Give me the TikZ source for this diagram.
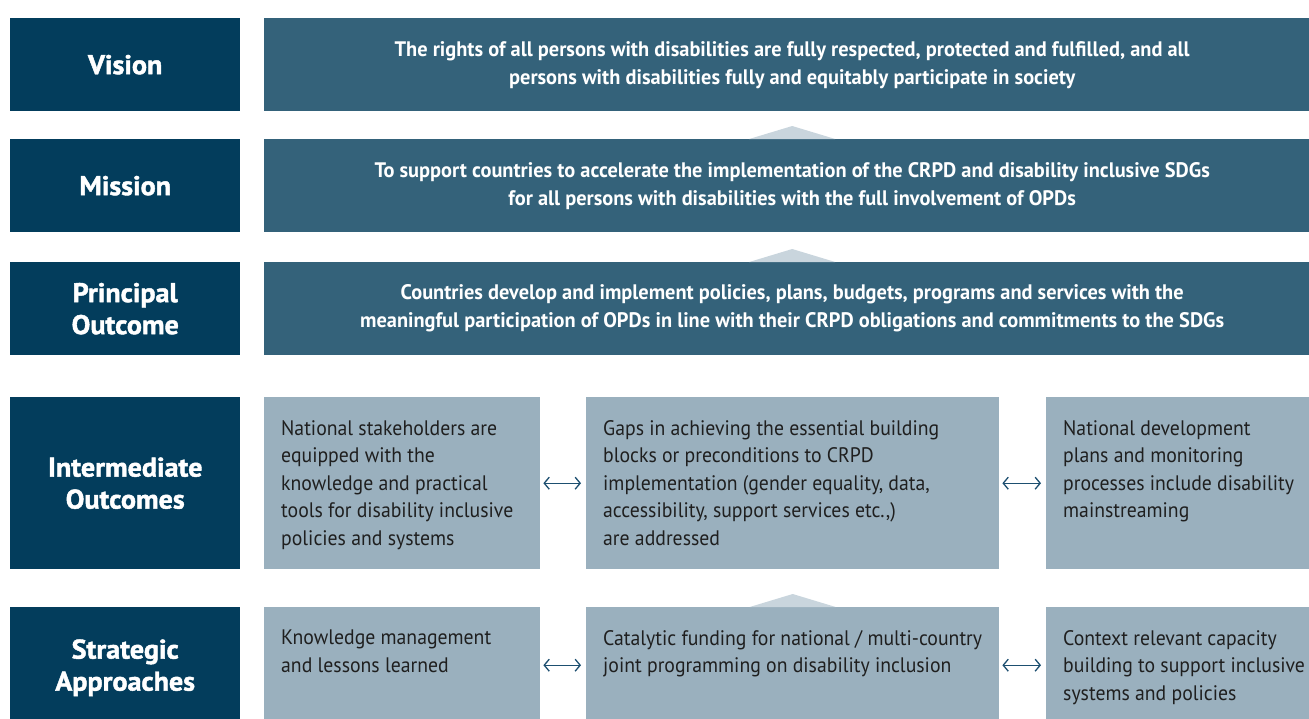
\documentclass[tikz,border=0pt]{standalone}
\usepackage{fontspec}
\setmainfont[FakeStretch=0.94]{PT Sans}
\newfontfamily\widefont[FakeStretch=0.97]{PT Sans}
\newfontfamily\heavyfont[FakeStretch=1.04, BoldFeatures={FakeBold=1.6}]{PT Sans}
\usetikzlibrary{arrows.meta, positioning}

\definecolor{navy}{HTML}{033D5C}
\definecolor{steel}{HTML}{34627A}
\definecolor{haze}{HTML}{9AB0BE}
\definecolor{peak}{HTML}{C9D5DD}
\definecolor{linkblue}{HTML}{1D4F70}

\begin{document}
\begin{tikzpicture}[x=1pt, y=-1pt,
    head/.style={fill=navy, text=white, anchor=north west, inner sep=0pt,
        minimum width=230pt, align=center,
        font=\heavyfont\bfseries\fontsize{27}{32}\selectfont},
    wide/.style={fill=steel, text=white, anchor=north west, inner sep=0pt,
        minimum width=1056pt, minimum height=93pt, align=center,
        font=\widefont\bfseries\fontsize{21}{28}\selectfont},
    pale/.style={fill=haze, anchor=north west, inner sep=0pt},
    note/.style={anchor=north west, inner sep=0pt, align=left,
        text=black!88, font=\fontsize{21}{27.5}\selectfont},
    link/.style={{Straight Barb[length=5pt,width=12pt]}-{Straight Barb[length=5pt,width=12pt]},
        linkblue, line width=1.3pt, shorten <=3pt, shorten >=5pt}]
    \useasboundingbox (0,0) rectangle (1309,718);

    % Row headers
    \node[head, minimum height=93pt] (vis) at (10,18) {Vision};
    \node[head, minimum height=93pt] (mis) at (10,139) {Mission};
    \node[head, minimum height=93pt] (pri) at (10,262) {Principal\\Outcome};
    \node[head, minimum height=172pt] (inter) at (10,397) {Intermediate\\Outcomes};
    \node[head, minimum height=121pt] (strat) at (10,607) {Strategic\\Approaches};

    % Wide statements
    \node[wide] (visBox) at (264,18) {The rights of all persons with disabilities are fully respected, protected and fulfilled, and all\\persons with disabilities fully and equitably participate in society};
    \node[wide] (misBox) at (264,139) {To support countries to accelerate the implementation of the CRPD and disability inclusive SDGs\\for all persons with disabilities with the full involvement of OPDs};
    \node[wide] (priBox) at (264,262) {Countries develop and implement policies, plans, budgets, programs and services with the\\meaningful participation of OPDs in line with their CRPD obligations and commitments to the SDGs};

    % Intermediate outcomes
    \node[pale, minimum width=276pt, minimum height=172pt] (io1) at (264,397) {};
    \node[pale, minimum width=413pt, minimum height=172pt] (io2) at (586,397) {};
    \node[pale, minimum width=275pt, minimum height=172pt] (io3) at (1046,397) {};
    \node[note] (io1Text) at ([shift={(17,23)}]io1.north west) {National stakeholders are\\equipped with the\\knowledge and practical\\tools for disability inclusive\\policies and systems};
    \node[note] (io2Text) at ([shift={(17,23)}]io2.north west) {Gaps in achieving the essential building\\blocks or preconditions to CRPD\\implementation (gender equality, data,\\accessibility, support services etc.,)\\are addressed};
    \node[note] (io3Text) at ([shift={(17,23)}]io3.north west) {National development\\plans and monitoring\\processes include disability\\mainstreaming};

    % Strategic approaches
    \node[pale, minimum width=276pt, minimum height=116pt] (sa1) at (264,607) {};
    \node[pale, minimum width=413pt, minimum height=116pt] (sa2) at (586,607) {};
    \node[pale, minimum width=275pt, minimum height=116pt] (sa3) at (1046,607) {};
    \node[note] (sa1Text) at ([shift={(17,23)}]sa1.north west) {Knowledge management\\and lessons learned};
    \node[note] (sa2Text) at ([shift={(17,23)}]sa2.north west) {Catalytic funding for national / multi-country\\joint programming on disability inclusion};
    \node[note] (sa3Text) at ([shift={(17,23)}]sa3.north west) {Context relevant capacity\\building to support inclusive\\systems and policies};

    % Upward peaks
    \foreach \b in {misBox, priBox, sa2}
        \fill[peak] ([xshift=-43pt]\b.north) -- ([yshift=13pt]\b.north) -- ([xshift=43pt]\b.north) -- cycle;

    % Links
    \draw[link] (io1.east) -- (io2.west);
    \draw[link] (io2.east) -- (io3.west);
    \draw[link] (sa1.east) -- (sa2.west);
    \draw[link] (sa2.east) -- (sa3.west);
\end{tikzpicture}
\end{document}
